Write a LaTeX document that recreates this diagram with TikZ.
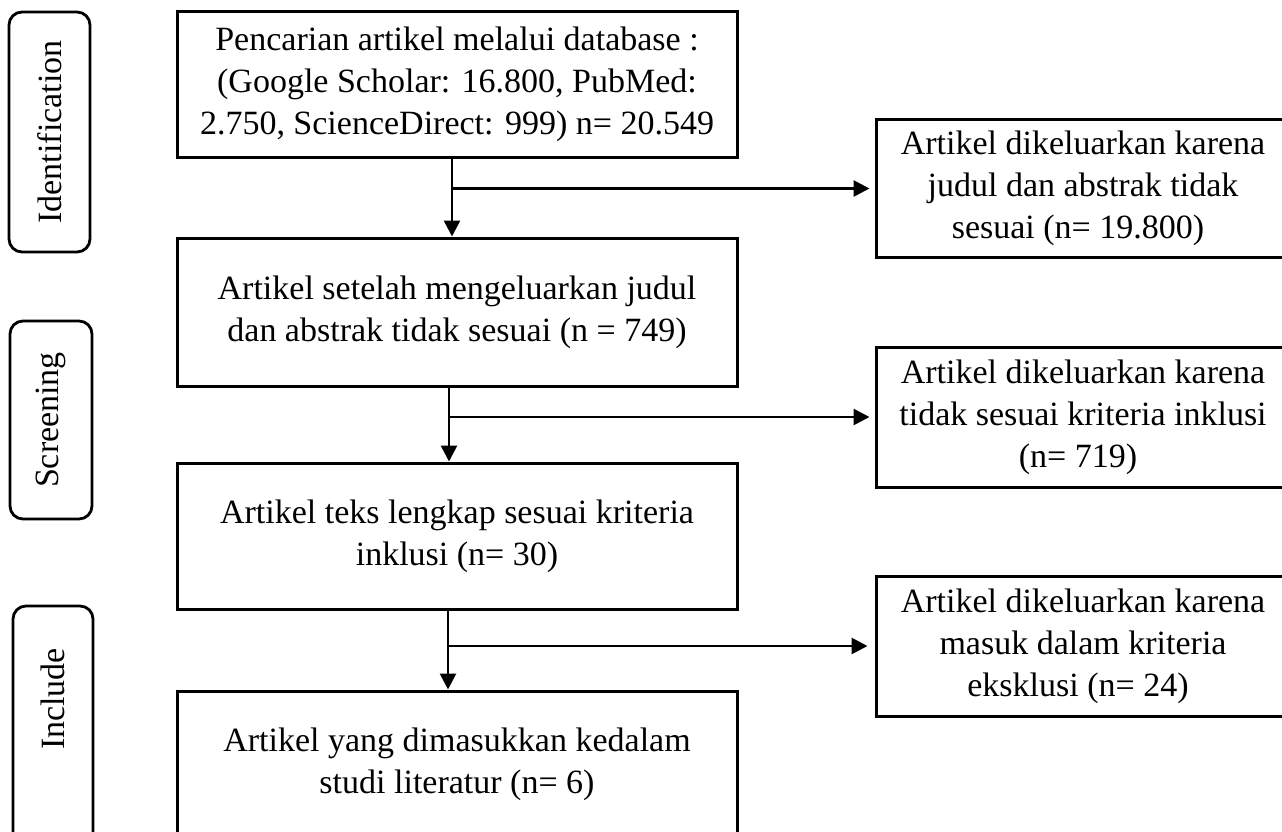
\documentclass[tikz,border=0pt]{standalone}
\usepackage{fontspec}
\setmainfont{Liberation Serif}
\usetikzlibrary{arrows.meta}
\begin{document}
\begin{tikzpicture}[x=1pt,y=-1pt,
  txt/.style={font=\fontsize{34}{42}\selectfont},
  box/.style={draw, line width=3pt, align=center, inner sep=0pt, txt},
  mainbox/.style={box, minimum width=560pt},
  sidebox/.style={box, minimum width=414pt, minimum height=138pt},
  stage/.style={draw, line width=2.8pt, rounded corners=13pt, inner sep=0pt},
  stagetext/.style={txt, rotate=90},
  arr/.style={line width=2.8pt, -{Triangle[length=16pt,width=16pt]}}]
\useasboundingbox (0,0) rectangle (1282,832);
\clip (0,0) rectangle (1282,832);
\fill[white] (0,0) rectangle (1282,832);

% stage boxes
\node[stage, minimum width=81pt, minimum height=240pt] (s1) at (49.5,132) {};
\node[stagetext] (t1) at (49.5,132) {Identification};
\node[stage, minimum width=82pt, minimum height=198pt] (s2) at (51,420) {};
\node[stagetext] (t2) at (51,420) {Screening};
\node[stage, minimum width=80pt, minimum height=244pt] (s3) at (53,728) {};
\node[stagetext] (t3) at (53,699) {Include};

% main boxes
\node[mainbox, minimum height=145pt] (b1) at (457,84.5)
  {Pencarian artikel melalui database :\\(Google Scholar: 16.800, PubMed:\\2.750, ScienceDirect: 999) n= 20.549};
\node[mainbox, minimum height=148pt] (b2) at (457,312)
  {Artikel setelah mengeluarkan judul\\dan abstrak tidak sesuai (n = 749)};
\node[mainbox, minimum height=146pt] (b3) at (457,536)
  {Artikel teks lengkap sesuai kriteria\\inklusi (n= 30)};
\node[mainbox, minimum height=146pt] (b4) at (457,764)
  {Artikel yang dimasukkan kedalam\\studi literatur (n= 6)};

% side boxes
\node[sidebox] (r1) at (1083,188.5)
  {Artikel dikeluarkan karena\\judul dan abstrak tidak\\sesuai (n= 19.800)\hspace*{10pt}};
\node[sidebox, minimum height=140pt] (r2) at (1083,417)
  {Artikel dikeluarkan karena\\tidak sesuai kriteria inklusi\\(n= 719)\hspace*{10pt}};
\node[sidebox, minimum height=140pt] (r3) at (1083,646)
  {Artikel dikeluarkan karena\\masuk dalam kriteria\\eksklusi (n= 24)\hspace*{10pt}};

% connectors
\draw[arr] ([xshift=-5pt]b1.south) -- ([xshift=-5pt]b2.north);
\draw[arr, shorten >=5pt] ([xshift=-5pt]b1.south |- r1.west) -- (r1.west);
\draw[arr] ([xshift=-8pt]b2.south) -- ([xshift=-8pt]b3.north);
\draw[arr, shorten >=5pt] ([xshift=-8pt]b2.south |- r2.west) -- (r2.west);
\draw[arr] ([xshift=-9pt]b3.south) -- ([xshift=-9pt]b4.north);
\draw[arr, shorten >=7pt] ([xshift=-9pt]b3.south |- r3.west) -- (r3.west);
\end{tikzpicture}
\end{document}
